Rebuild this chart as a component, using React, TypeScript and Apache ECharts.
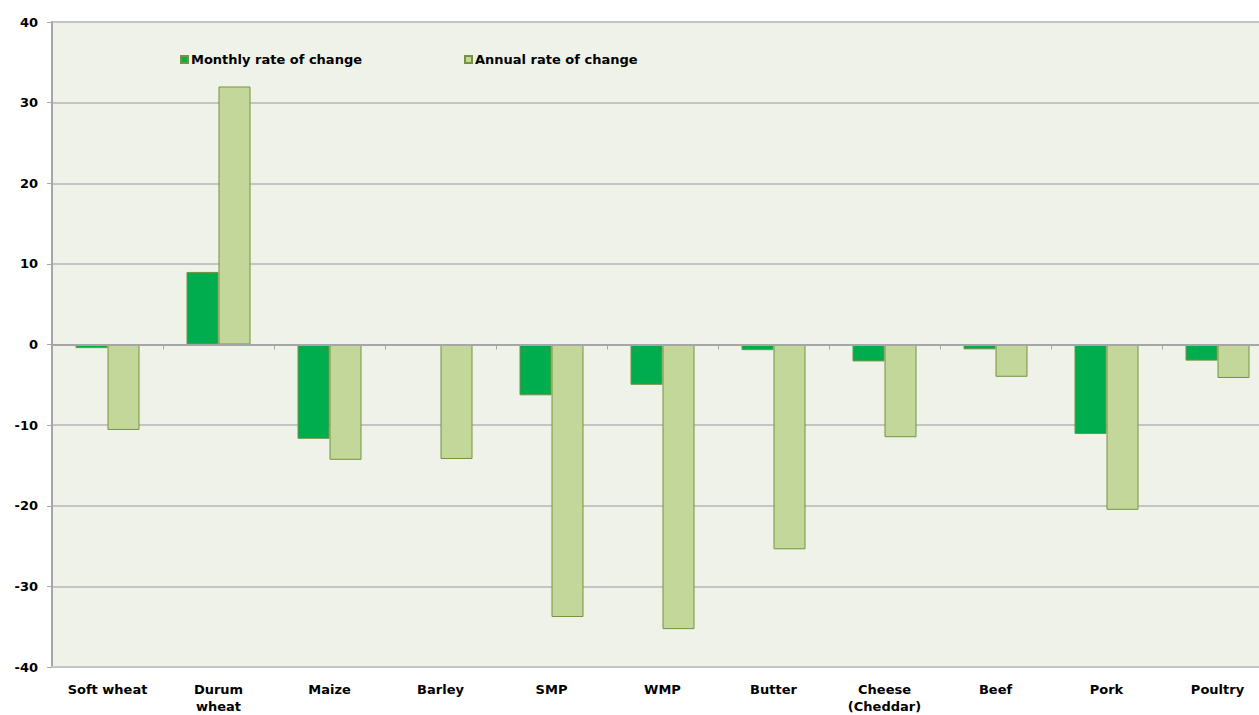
import React, { useEffect, useRef } from "react";
import * as echarts from "echarts";

const categories = [
  "Soft wheat",
  "Durum\nwheat",
  "Maize",
  "Barley",
  "SMP",
  "WMP",
  "Butter",
  "Cheese\n(Cheddar)",
  "Beef",
  "Pork",
  "Poultry",
];
const monthly = [-0.45, 9.0, -11.7, -0.15, -6.3, -5.0, -0.7, -2.1, -0.6, -11.1, -2.0];
const annual = [-10.6, 32.0, -14.3, -14.2, -33.8, -35.3, -25.4, -11.5, -4.0, -20.5, -4.15];
const seriesNames = ["Monthly rate of change", "Annual rate of change"];

const FONT = "'DejaVu Sans', Verdana, sans-serif";

export default function App() {
  const ref = useRef<HTMLDivElement>(null);
  useEffect(() => {
    if (!ref.current) return;
    const chart = echarts.init(ref.current, undefined, { renderer: "svg" });
    const legendText = { fontFamily: FONT, fontSize: 13, fontWeight: "bold", color: "#000", padding: [0, 0, 0, -2] };
    chart.setOption({
      animation: false,
      backgroundColor: "#ffffff",
      textStyle: { fontFamily: FONT },
      legend: [
        {
          data: [seriesNames[0]],
          left: 180,
          top: 53,
          padding: 0,
          itemWidth: 7,
          itemHeight: 7,
          icon: "rect",
          textStyle: legendText,
        },
        {
          data: [seriesNames[1]],
          left: 464,
          top: 53,
          padding: 0,
          itemWidth: 7,
          itemHeight: 7,
          icon: "rect",
          textStyle: legendText,
        },
      ],
      grid: {
        left: 52,
        top: 22,
        width: 1221,
        height: 648,
        show: true,
        backgroundColor: "#EFF2E8",
        borderWidth: 0,
        containLabel: false,
      },
      xAxis: [
        {
          type: "category",
          data: categories,
          axisLine: { onZero: true, lineStyle: { color: "#A6A6A6", width: 2 } },
          axisTick: { show: true, length: 5, lineStyle: { color: "#A6A6A6" } },
          axisLabel: { show: false },
          splitLine: { show: false },
          z: 5,
        },
        {
          type: "category",
          data: categories,
          position: "bottom",
          axisLine: { show: true, onZero: false, lineStyle: { color: "#C4C4C4", width: 2 } },
          axisTick: { show: false },
          axisLabel: {
            show: true,
            interval: 0,
            margin: 14,
            fontFamily: FONT,
            fontSize: 13,
            fontWeight: "bold",
            color: "#000",
            lineHeight: 17,
          },
        },
      ],
      yAxis: {
        type: "value",
        min: -40,
        max: 40,
        interval: 10,
        axisLine: { show: true, lineStyle: { color: "#A6A6A6", width: 2 } },
        axisTick: { show: true, length: 5, lineStyle: { color: "#A6A6A6" } },
        axisLabel: {
          fontFamily: FONT,
          fontSize: 13,
          fontWeight: "bold",
          color: "#000",
          margin: 14,
        },
        splitLine: { show: true, lineStyle: { color: "#C4C4C4", width: 2 } },
      },
      series: [
        {
          name: seriesNames[0],
          type: "bar",
          xAxisIndex: 0,
          data: monthly,
          barWidth: 32,
          barGap: "0%",
          itemStyle: { color: "#00AD4E", borderColor: "#76933C", borderWidth: 1 },
        },
        {
          name: seriesNames[1],
          type: "bar",
          xAxisIndex: 0,
          data: annual,
          barWidth: 32,
          barGap: "0%",
          itemStyle: { color: "#C4D79B", borderColor: "#76933C", borderWidth: 1 },
        },
      ],
    });
    return () => chart.dispose();
  }, []);
  return (
    <div style={{ position: "absolute", left: 0, top: 0, width: 1259, height: 715, overflow: "hidden" }}>
      <div ref={ref} style={{ width: 1273, height: 715 }} />
    </div>
  );
}
